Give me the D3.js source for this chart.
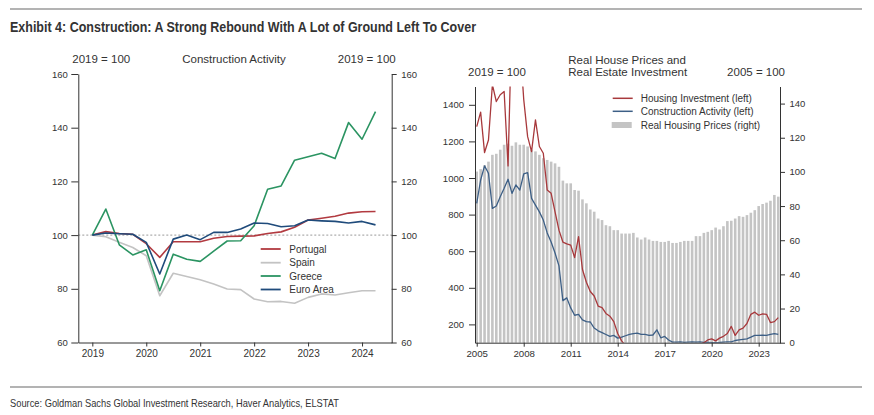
<!DOCTYPE html>
<html><head><meta charset="utf-8">
<script src="https://cdn.jsdelivr.net/npm/d3@7"></script>
<style>
body{margin:0;background:#fff}
svg{display:block}
text{font-family:"Liberation Sans",Arial,sans-serif;fill:#333}
</style>
</head><body>
<svg id="c" width="874" height="415"></svg>
<script>
// ---------------- DATA ----------------
const leftPeriods = ["2019Q1","2019Q2","2019Q3","2019Q4","2020Q1","2020Q2","2020Q3","2020Q4",
  "2021Q1","2021Q2","2021Q3","2021Q4","2022Q1","2022Q2","2022Q3","2022Q4",
  "2023Q1","2023Q2","2023Q3","2023Q4","2024Q1","2024Q2"];
const portugal = [100,101.3,100.6,100.3,96.8,91.7,97.5,97.5,97.5,98.8,99.5,99.6,99.7,100.6,101.2,102.9,105.6,106.3,107,108.2,108.7,108.8];
const spain    = [100,99.4,97.3,95.4,92.3,77.4,85.8,84.6,83.4,81.8,79.9,79.7,76.2,75.2,75.3,74.6,76.8,78.1,77.7,78.5,79.3,79.3];
const greece   = [100,109.7,96.4,92.6,94.5,79.3,92.9,91,90.2,94,97.8,97.9,103.5,117.1,118.3,127.9,129.2,130.5,128.5,141.9,135.7,146];
const euroArea = [100,100.8,100.5,100.3,97.3,85.5,98.5,100,98.3,101,101,102.3,104.5,104.3,103.1,103.5,105.6,105.3,105.1,104.5,105.1,103.8];
const leftSeriesNames = ["Portugal","Spain","Greece","Euro Area"];
const leftYTicks = [60,80,100,120,140,160];
const leftXTicks = [2019,2020,2021,2022,2023,2024];

const rightPeriods = [
 "2005Q1","2005Q2","2005Q3","2005Q4","2006Q1","2006Q2","2006Q3","2006Q4","2007Q1","2007Q2","2007Q3","2007Q4",
 "2008Q1","2008Q2","2008Q3","2008Q4","2009Q1","2009Q2","2009Q3","2009Q4","2010Q1","2010Q2","2010Q3","2010Q4",
 "2011Q1","2011Q2","2011Q3","2011Q4","2012Q1","2012Q2","2012Q3","2012Q4","2013Q1","2013Q2","2013Q3","2013Q4",
 "2014Q1","2014Q2","2014Q3","2014Q4","2015Q1","2015Q2","2015Q3","2015Q4","2016Q1","2016Q2","2016Q3","2016Q4",
 "2017Q1","2017Q2","2017Q3","2017Q4","2018Q1","2018Q2","2018Q3","2018Q4","2019Q1","2019Q2","2019Q3","2019Q4",
 "2020Q1","2020Q2","2020Q3","2020Q4","2021Q1","2021Q2","2021Q3","2021Q4","2022Q1","2022Q2","2022Q3","2022Q4",
 "2023Q1","2023Q2","2023Q3","2023Q4","2024Q1","2024Q2"];
const housingPrices = [100.2,101.6,104,106,110,110.6,113,115.9,116.5,115.3,117.3,115.9,
 115.9,114.9,113,112,110,108,107,106,105,103,94.9,93.3,
 93.3,89.4,89,83.9,81.6,78,76.7,72.7,71.8,68.8,68.2,65.9,
 65.9,63.9,63.9,63.9,64.3,61.6,60.4,61.6,60.4,59.6,59.6,59,
 59,59.6,58.4,58.4,59,59.6,59.6,59.6,62.4,62.4,64.3,64.9,
 65.9,67.4,66.3,68.2,71.2,71.4,72.7,74.1,73.7,74.7,76.1,77.6,
 80,81.2,82,83.1,86.5,85.5];
const housingInvestment = [1281,1360,1139,1208,1510,1418,1455,1473,1066,1900,1850,1750,
 1430,1226,1144,1318,1172,1135,934,916,815,715,650,640,
 633,565,680,500,430,380,355,300,292,260,245,215,
 150,110,85,70,65,60,60,58,58,57,57,56,
 56,55,55,56,57,58,60,70,90,92,100,115,
 121,110,125,135,150,189,140,170,180,205,255,267,
 250,258,255,210,215,237];
const constructionActivity = [861,989,1066,1026,834,847,898,944,993,916,962,934,
 1022,1029,889,852,815,770,700,650,590,520,330,345,
 290,250,255,225,215,213,180,165,155,145,135,140,
 125,130,138,145,150,152,145,145,140,142,170,127,
 134,115,103,103,104,102,103,104,103,104,102,101,
 100,100,101,103,104,105,112,115,118,121,130,140,
 140,141,140,145,150,145];
const rightYTicksLeft = [200,400,600,800,1000,1200,1400];
const rightYTicksRight = [0,20,40,60,80,100,120,140];
const rightXTicks = [2005,2008,2011,2014,2017,2020,2023];

// ---------------- HELPERS ----------------
const toYear = p => +p.slice(0,4) + (+p.slice(5)-1)/4;
const svg = d3.select("#c");
const fmt = d3.format("d");

function styleAxis(g, fs){
  g.selectAll("path,line").attr("stroke","#333").attr("stroke-width",1);
  g.selectAll("text").attr("font-size",fs).attr("fill","#333")
   .attr("font-family","'Liberation Sans',Arial,sans-serif");
}

// ---------------- FRAME ----------------
svg.append("line").attr("x1",10).attr("x2",862).attr("y1",9).attr("y2",9)
  .attr("stroke","#b3b3b3").attr("stroke-width",2);
svg.append("line").attr("x1",10).attr("x2",862).attr("y1",387).attr("y2",387)
  .attr("stroke","#b3b3b3").attr("stroke-width",2);
svg.append("text").attr("x",10).attr("y",32)
  .style("font-family","'Liberation Sans Narrow','Arial Narrow','Liberation Sans',sans-serif")
  .attr("font-weight","bold").attr("font-size",15).attr("fill","#111")
  .attr("textLength",466).attr("lengthAdjust","spacingAndGlyphs")
  .text("Exhibit 4: Construction: A Strong Rebound With A Lot of Ground Left To Cover");
svg.append("text").attr("x",10).attr("y",407)
  .style("font-family","'Liberation Sans Narrow','Arial Narrow','Liberation Sans',sans-serif")
  .attr("font-size",10.5).attr("fill","#333")
  .attr("textLength",329).attr("lengthAdjust","spacingAndGlyphs")
  .text("Source: Goldman Sachs Global Investment Research, Haver Analytics, ELSTAT");

// ---------------- LEFT CHART ----------------
const L = {x0:78.3, x1:391.7, y0:342.5, y1:74};
const xL = d3.scaleLinear().domain([2018.74,2024.55]).range([L.x0,L.x1]);
const yL = d3.scaleLinear().domain([60,160]).range([L.y0,L.y1]);
const gl = svg.append("g");

gl.append("text").attr("x",72.3).attr("y",63).attr("font-size",11.5).text("2019 = 100");
gl.append("text").attr("x",234).attr("y",63).attr("font-size",11.5).attr("text-anchor","middle").text("Construction Activity");
gl.append("text").attr("x",395.7).attr("y",63).attr("font-size",11.5).attr("text-anchor","end").text("2019 = 100");

gl.append("line").attr("x1",L.x0).attr("x2",L.x1).attr("y1",yL(100)).attr("y2",yL(100))
  .attr("stroke","#999").attr("stroke-width",1).attr("stroke-dasharray","2,2");

let a;
a = gl.append("g").attr("transform",`translate(${L.x0},0)`)
  .call(d3.axisLeft(yL).tickValues(leftYTicks).tickFormat(fmt).tickSize(7).tickSizeOuter(0).tickPadding(3.5));
styleAxis(a,9.5);
a = gl.append("g").attr("transform",`translate(${L.x1},0)`)
  .call(d3.axisRight(yL).tickValues(leftYTicks).tickFormat(fmt).tickSize(5).tickSizeOuter(0).tickPadding(4.5));
styleAxis(a,9.5);
a = gl.append("g").attr("transform",`translate(0,${L.y0})`)
  .call(d3.axisBottom(xL).tickValues(leftXTicks).tickFormat(fmt).tickSize(4).tickSizeOuter(0).tickPadding(3));
styleAxis(a,10);

const leftColors = {"Portugal":"#b23a40","Spain":"#c3c3c3","Greece":"#2b9462","Euro Area":"#1f4b7b"};
const leftData = {"Portugal":portugal,"Spain":spain,"Greece":greece,"Euro Area":euroArea};
const lineL = d3.line().x((d,i)=>xL(toYear(leftPeriods[i]))).y(d=>yL(d));
["Spain","Portugal","Greece","Euro Area"].forEach(n=>{
  gl.append("path").datum(leftData[n]).attr("d",lineL).attr("fill","none")
    .attr("stroke",leftColors[n]).attr("stroke-width",1.6).attr("stroke-linejoin","round");
});
const legY = [249,262.7,276,289.5];
leftSeriesNames.forEach((n,i)=>{
  gl.append("line").attr("x1",260.7).attr("x2",280.7).attr("y1",legY[i]).attr("y2",legY[i])
    .attr("stroke",leftColors[n]).attr("stroke-width",1.8);
  gl.append("text").attr("x",289.3).attr("y",legY[i]+3.6).attr("font-size",10).text(n);
});

// ---------------- RIGHT CHART ----------------
const R = {x0:475, x1:780, y0:342.7, y1:86.5};
const xR = d3.scaleLinear().domain([2004.89,2024.36]).range([R.x0,R.x1]);
const yRl = d3.scaleLinear().domain([100,1500]).range([R.y0,R.y1]);
const yRr = d3.scaleLinear().domain([0,150]).range([R.y0,R.y1]);
const gr = svg.append("g");

gr.append("text").attr("x",568.3).attr("y",64).attr("font-size",11.5).text("Real House Prices and");
gr.append("text").attr("x",568.3).attr("y",76).attr("font-size",11.5).text("Real Estate Investment");
gr.append("text").attr("x",468).attr("y",76).attr("font-size",11.5).text("2019 = 100");
gr.append("text").attr("x",785).attr("y",76).attr("font-size",11.5).attr("text-anchor","end").text("2005 = 100");

svg.append("defs").append("clipPath").attr("id","clipR").append("rect")
  .attr("x",R.x0).attr("y",R.y1).attr("width",R.x1-R.x0).attr("height",R.y0-R.y1);

gr.append("g").selectAll("rect").data(housingPrices).join("rect")
  .attr("x",(d,i)=>xR(toYear(rightPeriods[i]))-1.3)
  .attr("width",2.6)
  .attr("y",d=>yRr(d)).attr("height",d=>yRr(0)-yRr(d))
  .attr("fill","#c4c4c4");

const lineR = d3.line().x((d,i)=>xR(toYear(rightPeriods[i]))).y(d=>yRl(d));
const cg = gr.append("g").attr("clip-path","url(#clipR)");
cg.append("path").datum(constructionActivity).attr("d",lineR).attr("fill","none")
  .attr("stroke","#3d5f86").attr("stroke-width",1.3).attr("stroke-linejoin","round");
cg.append("path").datum(housingInvestment).attr("d",lineR).attr("fill","none")
  .attr("stroke","#a8393c").attr("stroke-width",1.3).attr("stroke-linejoin","round");

a = gr.append("g").attr("transform",`translate(${R.x0},0)`)
  .call(d3.axisLeft(yRl).tickValues(rightYTicksLeft).tickFormat(fmt).tickSize(6).tickSizeOuter(0).tickPadding(5));
styleAxis(a,9.5);
a = gr.append("g").attr("transform",`translate(${R.x1},0)`)
  .call(d3.axisRight(yRr).tickValues(rightYTicksRight).tickFormat(fmt).tickSize(5).tickSizeOuter(0).tickPadding(4.5));
styleAxis(a,9.5);
a = gr.append("g").attr("transform",`translate(0,${R.y0})`)
  .call(d3.axisBottom(xR).tickValues(rightXTicks).tickFormat(fmt).tickSize(4).tickSizeOuter(0).tickPadding(3));
styleAxis(a,9.7);

const rLeg = [
  {name:"Housing Investment (left)", color:"#a8393c", type:"line", y:98.3},
  {name:"Construction Activity (left)", color:"#3d5f86", type:"line", y:111.3},
  {name:"Real Housing Prices (right)", color:"#c4c4c4", type:"rect", y:125}
];
rLeg.forEach(d=>{
  if(d.type==="line"){
    gr.append("line").attr("x1",612.7).attr("x2",632.7).attr("y1",d.y).attr("y2",d.y)
      .attr("stroke",d.color).attr("stroke-width",1.5);
  } else {
    gr.append("rect").attr("x",611.7).attr("y",d.y-3).attr("width",20).attr("height",6).attr("fill",d.color);
  }
  gr.append("text").attr("x",640.7).attr("y",d.y+3.5).attr("font-size",10).text(d.name);
});
</script>
</body></html>
